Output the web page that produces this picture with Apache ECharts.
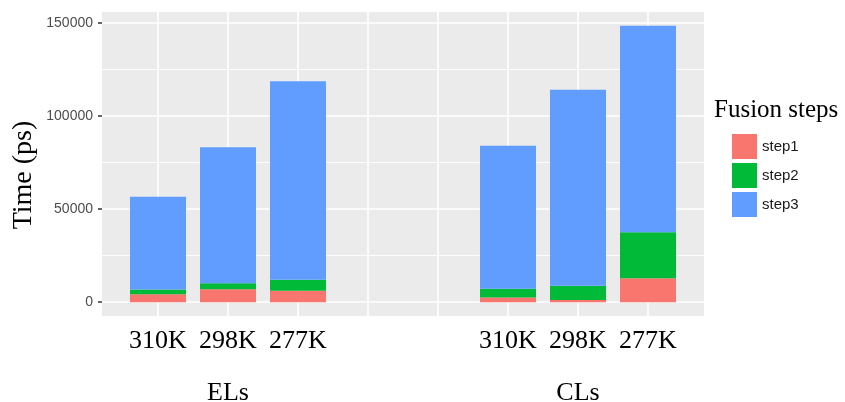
<!DOCTYPE html>
<html>
<head>
<meta charset="utf-8">
<script src="https://cdn.jsdelivr.net/npm/echarts@6/dist/echarts.min.js"></script>
<style>
html,body{margin:0;padding:0;background:#fff;}
#chart{width:845px;height:402px;}
</style>
</head>
<body>
<div id="chart"></div>
<script>
// x slots (two blank spacer slots between the groups)
const categories = ['310K', '298K', '277K', '', '', '310K', '298K', '277K'];
const groupOfSlot = ['ELs', 'ELs', 'ELs', '', '', 'CLs', 'CLs', 'CLs'];
const groups = ['ELs', 'CLs'];
// Fusion time per step (ps)
const step1 = [4300, 7000, 6100, null, null, 2500, 1200, 12900];
const step2 = [2500, 3200, 6000, null, null, 4800, 7700, 24700];
const step3 = [49800, 73100, 106600, null, null, 76800, 105200, 110900];
const seriesNames = ['step1', 'step2', 'step3'];
const yTicks = [0, 50000, 100000, 150000];
const yMinorTicks = [25000, 75000, 125000];

const colors = ['#F8766D', '#00BA38', '#619CFF'];
const serif = '"Liberation Serif", "Times New Roman", serif';
const sans = '"Liberation Sans", Arial, sans-serif';

const slotValues = categories.map((c, i) => i + 1);
const groupCenters = groups.map(g => {
  const idx = [];
  groupOfSlot.forEach((s, i) => { if (s === g) idx.push(i + 1); });
  return idx.reduce((a, b) => a + b, 0) / idx.length;
});

// [value, slot] so that the stacked dimension is the value (y) dimension
function toData(arr) {
  const out = [];
  arr.forEach((v, i) => { if (v !== null) out.push([v, i + 1]); });
  return out;
}
const allSteps = [step1, step2, step3];

const chart = echarts.init(document.getElementById('chart'), null, {renderer: 'canvas'});
chart.setOption({
  animation: false,
  backgroundColor: '#ffffff',
  title: {
    text: 'Fusion steps',
    left: 714,
    top: 98,
    padding: 0,
    textStyle: {fontFamily: serif, fontSize: 25, fontWeight: 'normal', color: '#000'}
  },
  legend: {
    orient: 'vertical',
    left: 732,
    top: 134,
    padding: 0,
    itemWidth: 25,
    itemHeight: 25,
    itemGap: 4,
    icon: 'rect',
    selectedMode: false,
    data: seriesNames,
    textStyle: {fontFamily: sans, fontSize: 15, color: '#1A1A1A'}
  },
  grid: {
    left: 102, right: 141, top: 12, bottom: 86,
    show: true, backgroundColor: '#EBEBEB', borderWidth: 0,
    containLabel: false,
    outerBoundsMode: 'none'
  },
  xAxis: [{
    type: 'value',
    min: 0.2, max: 8.8,
    axisLine: {show: false},
    axisTick: {show: false, customValues: slotValues},
    splitLine: {show: true, lineStyle: {color: '#ffffff', width: 1.6}},
    axisLabel: {
      customValues: slotValues,
      margin: 12,
      fontFamily: serif, fontSize: 26, color: '#000',
      formatter: v => categories[Math.round(v) - 1] || ''
    }
  }, {
    type: 'value',
    position: 'bottom',
    min: 0.2, max: 8.8,
    axisLine: {show: false},
    axisTick: {show: false, customValues: groupCenters},
    splitLine: {show: false},
    axisLabel: {
      customValues: groupCenters,
      margin: 64,
      fontFamily: serif, fontSize: 26, color: '#000',
      formatter: v => groups[groupCenters.indexOf(v)] || ''
    }
  }],
  yAxis: [{
    type: 'value',
    min: -7400, max: 155900,
    axisLine: {show: false},
    axisTick: {show: true, length: 4, customValues: yTicks, lineStyle: {color: '#333333', width: 1.5}},
    axisLabel: {customValues: yTicks, margin: 9, fontFamily: sans, fontSize: 14, color: '#4D4D4D',
      formatter: v => String(v)},
    splitLine: {show: true, lineStyle: {color: '#ffffff', width: 1.6}}
  }, {
    type: 'value',
    position: 'left',
    min: -7400, max: 155900,
    axisLine: {show: false},
    axisTick: {show: false, customValues: yMinorTicks},
    axisLabel: {show: false, customValues: yMinorTicks},
    splitLine: {show: true, lineStyle: {color: '#ffffff', width: 0.9}}
  }],
  graphic: [{
    type: 'text',
    x: 24,
    y: 175,
    rotation: Math.PI / 2,
    style: {
      text: 'Time (ps)',
      fontFamily: serif, fontSize: 28, fill: '#000',
      textAlign: 'center', textVerticalAlign: 'middle'
    }
  }],
  series: seriesNames.map((name, k) => ({
    name: name,
    type: 'bar',
    stack: 'total',
    xAxisIndex: 0,
    yAxisIndex: 0,
    barWidth: 56,
    encode: {x: 1, y: 0},
    itemStyle: {color: colors[k]},
    data: toData(allSteps[k])
  }))
});
</script>
</body>
</html>
